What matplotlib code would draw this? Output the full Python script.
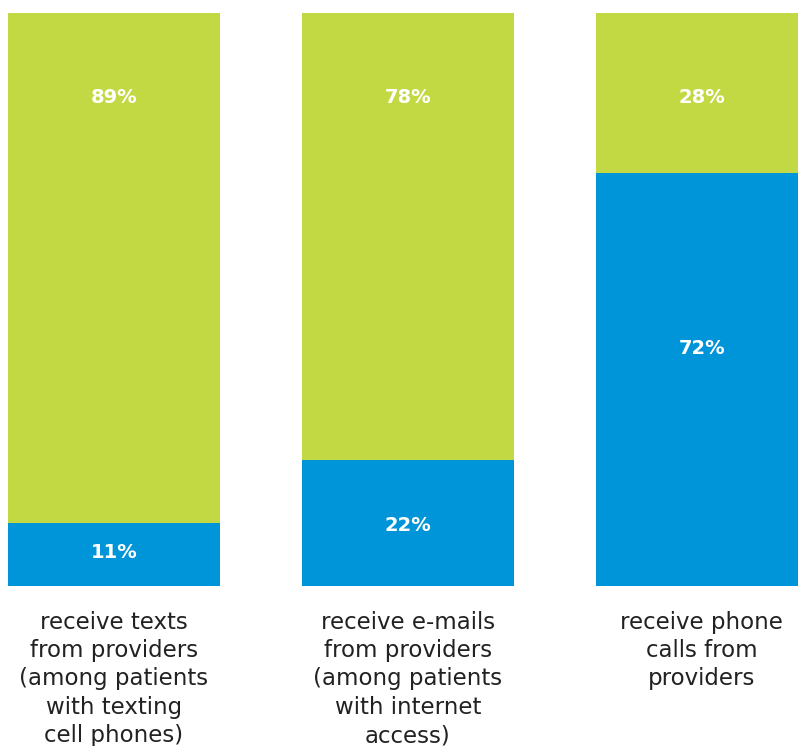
import numpy as np
import matplotlib.pyplot as plt

categories = [
    "receive texts\nfrom providers\n(among patients\nwith texting\ncell phones)",
    "receive e-mails\nfrom providers\n(among patients\nwith internet\naccess)",
    "receive phone\ncalls from\nproviders",
]
blue_vals = [11, 22, 72]
green_vals = [89, 78, 28]

GREEN = "#c3d943"
BLUE = "#0094d8"

# vertical placement of the value labels (axis units)
green_label_y = 85.2
blue_label_y = [5.8, 10.6, 41.4]

fig = plt.figure(figsize=(7.98, 7.46), dpi=100)
# axes spans full width; plot area from y=13px to y=586px
ax = fig.add_axes([0, 1 - 586 / 746, 1, (586 - 13) / 746])

x = np.arange(len(categories))
width = 0.72
ax.bar(x, blue_vals, width=width, color=BLUE, linewidth=0)
ax.bar(x, green_vals, width=width, bottom=blue_vals, color=GREEN, linewidth=0)

ax.set_xlim(-0.388, 2.327)
ax.set_ylim(0, 100)
ax.axis("off")

for xi, b, g, by in zip(x, blue_vals, green_vals, blue_label_y):
    ax.text(xi, green_label_y, f"{g}%", ha="center", va="center", color="white",
            fontsize=14, fontweight="bold")
    ax.text(xi, by, f"{b}%", ha="center", va="center", color="white",
            fontsize=14, fontweight="bold")

for xi, label in zip(x, categories):
    ax.text(xi, -4.3, label, ha="center", va="top", color="#222222",
            fontsize=16.5, linespacing=1.30, clip_on=False)

fig.savefig("out.png", dpi=100)
